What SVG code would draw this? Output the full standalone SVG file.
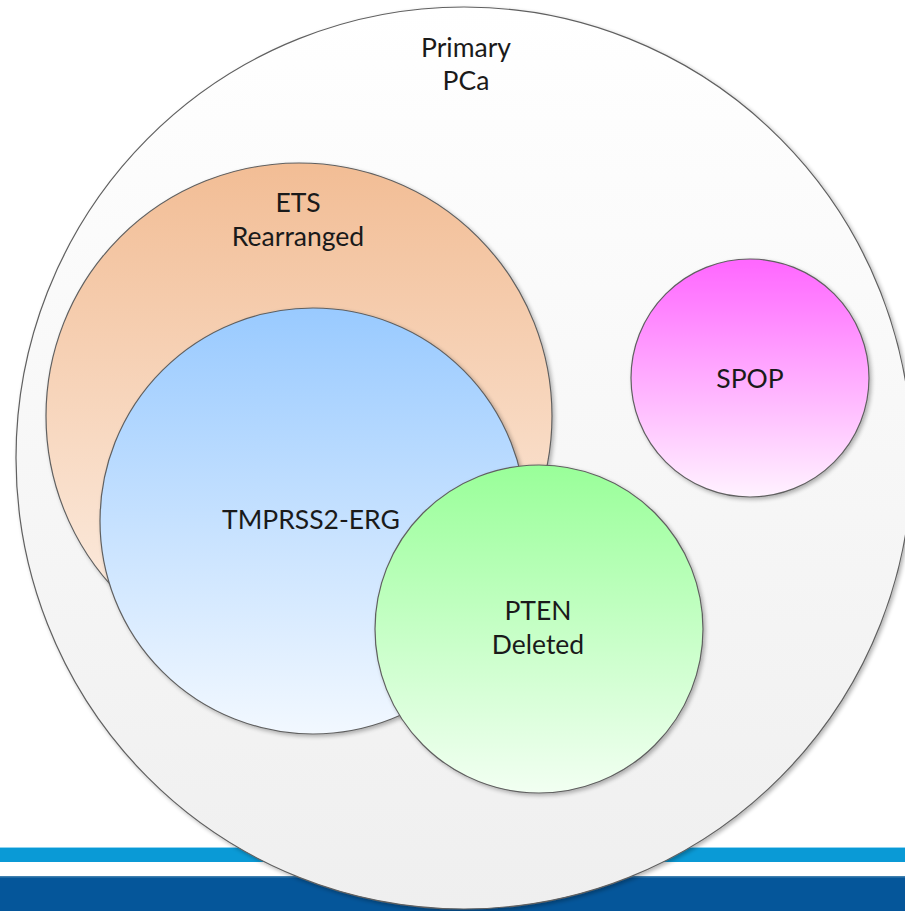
<svg xmlns="http://www.w3.org/2000/svg" width="905" height="911" viewBox="0 0 905 911">
  <defs>
    <linearGradient id="gOuter" x1="0" y1="0" x2="0" y2="1">
      <stop offset="0" stop-color="#ffffff"/>
      <stop offset="1" stop-color="#efefef"/>
    </linearGradient>
    <linearGradient id="gEts" x1="0" y1="0" x2="0" y2="1">
      <stop offset="0" stop-color="#f2bd95"/>
      <stop offset="1" stop-color="#fdf1e8"/>
    </linearGradient>
    <linearGradient id="gErg" x1="0" y1="0" x2="0" y2="1">
      <stop offset="0" stop-color="#99caff"/>
      <stop offset="1" stop-color="#f2f8ff"/>
    </linearGradient>
    <linearGradient id="gPten" x1="0" y1="0" x2="0" y2="1">
      <stop offset="0" stop-color="#99ff99"/>
      <stop offset="1" stop-color="#f2fff2"/>
    </linearGradient>
    <linearGradient id="gSpop" x1="0" y1="0" x2="0" y2="1">
      <stop offset="0" stop-color="#ff66ff"/>
      <stop offset="1" stop-color="#fff2ff"/>
    </linearGradient>
    <filter id="shadow" x="-10%" y="-10%" width="120%" height="120%">
      <feGaussianBlur in="SourceAlpha" stdDeviation="2"/>
      <feOffset dx="2" dy="2" result="b"/>
      <feComponentTransfer><feFuncA type="linear" slope="0.3"/></feComponentTransfer>
      <feMerge><feMergeNode/><feMergeNode in="SourceGraphic"/></feMerge>
    </filter>
  </defs>
  <style>
    .set { stroke: #606060; stroke-width: 1.2; filter: url(#shadow); }
    .lbl { font-family: Lato, "Open Sans", "Liberation Sans", sans-serif; font-size: 26.5px; fill: #1a1a1a; text-anchor: middle; }
  </style>

  <!-- page background with footer bands -->
  <rect x="0" y="0" width="905" height="911" fill="#ffffff"/>
  <rect x="0" y="847" width="905" height="1.5" fill="#8fd3f0"/>
  <rect x="0" y="848" width="905" height="14" fill="#0a9ad6"/>
  <rect x="0" y="876" width="905" height="35" fill="#05569a"/>
  <rect x="0" y="876" width="905" height="1.5" fill="#3f7fae"/>

  <g id="primary-pca">
    <ellipse class="set" cx="464" cy="458" rx="448" ry="451" fill="url(#gOuter)"/>
    <text class="lbl" x="466" y="57">Primary</text>
    <text class="lbl" x="466" y="90">PCa</text>
  </g>

  <g id="ets-rearranged">
    <circle class="set" cx="299" cy="416" r="253" fill="url(#gEts)"/>
    <text class="lbl" x="298" y="212">ETS</text>
    <text class="lbl" x="298" y="246">Rearranged</text>
  </g>

  <g id="tmprss2-erg">
    <circle class="set" cx="313" cy="521" r="213" fill="url(#gErg)"/>
    <text class="lbl" x="311" y="529">TMPRSS2-ERG</text>
  </g>

  <g id="pten-deleted">
    <circle class="set" cx="539" cy="629" r="164" fill="url(#gPten)"/>
    <text class="lbl" x="538" y="620">PTEN</text>
    <text class="lbl" x="538" y="654">Deleted</text>
  </g>

  <g id="spop">
    <circle class="set" cx="750" cy="378" r="119" fill="url(#gSpop)"/>
    <text class="lbl" x="750" y="388">SPOP</text>
  </g>

  <g id="connectors"/>
</svg>
